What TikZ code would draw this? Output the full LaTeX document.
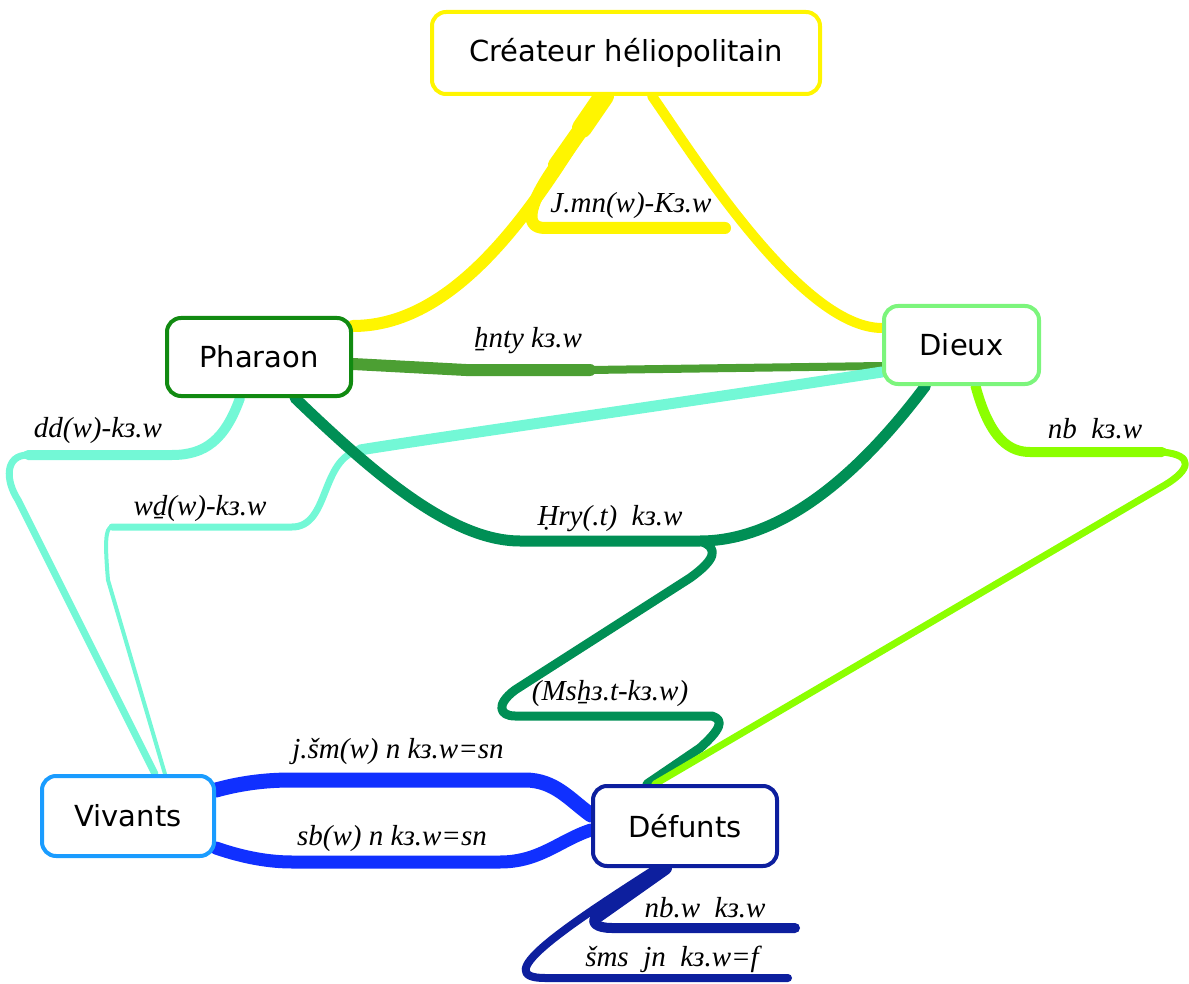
\documentclass[tikz,border=0pt]{standalone}
\usepackage{fontspec}
\setmainfont{Liberation Serif}
\newfontfamily\boxfont{DejaVu Sans}
\usetikzlibrary{backgrounds}
\definecolor{sun}{HTML}{FFF500}
\definecolor{phargreen}{HTML}{118A11}
\definecolor{olive}{HTML}{4C9F33}
\definecolor{godgreen}{HTML}{7CF57C}
\definecolor{jade}{HTML}{008F55}
\definecolor{lime}{HTML}{8CFF00}
\definecolor{aqua}{HTML}{73F8D6}
\definecolor{sky}{HTML}{1A9CFF}
\definecolor{royal}{HTML}{1030FF}
\definecolor{navy}{HTML}{0D1F9E}

\begin{document}
\begin{tikzpicture}[x=1pt,y=-1pt,
  box/.style={draw=#1,line width=4pt,fill=white,rounded corners=14pt,
              font=\boxfont\fontsize{29}{34}\selectfont,inner sep=0pt},
  lbl/.style={font=\itshape\fontsize{29}{33}\selectfont,anchor=base,
              inner sep=0pt},
  link/.style={draw=#1,line cap=round,line join=round},
]
\useasboundingbox (0,0) rectangle (1189,984);

% Concept boxes
\node[box=sun,minimum width=388pt,minimum height=82pt] (crea) at (626,53)
  {Créateur héliopolitain};
\node[box=phargreen,minimum width=184pt,minimum height=78pt] (phar) at (259,357)
  {Pharaon};
\node[box=godgreen,minimum width=155pt,minimum height=78pt] (dieu) at (961.5,345)
  {Dieux};
\node[box=sky,minimum width=172pt,minimum height=80pt] (viv) at (128,816)
  {Vivants};
\node[box=navy,minimum width=184pt,minimum height=80pt] (def) at (685,826)
  {Défunts};

% Label segments and bends
\coordinate (jmnA) at (582,128); \coordinate (jmnK) at (556,165);
\coordinate (jmnL) at (545,228); \coordinate (jmnR) at (725,228);
\coordinate (hntL) at (466,370); \coordinate (hntR) at (590,370);
\coordinate (ddL)  at (28,455);  \coordinate (ddR)  at (172,455);
\coordinate (wdK)  at (360,450);
\coordinate (wdL)  at (112,527); \coordinate (wdR)  at (292,527);
\coordinate (hryL) at (520,541); \coordinate (hryR) at (700,541);
\coordinate (mshL) at (515,716); \coordinate (mshR) at (712,716);
\coordinate (nbL)  at (1030,452);\coordinate (nbR)  at (1162,452);
\coordinate (jsmL) at (292,780); \coordinate (jsmR) at (525,780);
\coordinate (sbL)  at (292,862); \coordinate (sbR)  at (500,862);
\coordinate (nbwK) at (597,916);
\coordinate (nbwL) at (612,928); \coordinate (nbwR) at (795,928);
\coordinate (smsL) at (545,978); \coordinate (smsR) at (788,978);

\begin{scope}[on background layer]
% Creator branches
\draw[link=sun,line width=20pt] ([xshift=-22pt]crea.south) -- (jmnA);
\draw[link=sun,line width=16pt] (jmnA) -- (jmnK);
\draw[link=sun,line width=12pt] (jmnK)
  .. controls (530,202) and (522,228) .. (jmnL) -- (jmnR);
\draw[link=sun,line width=12pt] ([xshift=-24pt]crea.south)
  .. controls (540,200) and (460,326) .. ([yshift=-10pt]phar.north east);
\draw[link=sun,line width=10pt] ([xshift=26pt]crea.south)
  .. controls (690,150) and (800,328) .. ([yshift=17pt]dieu.west);

% Pharaon -- Dieux
\draw[link=olive,line width=12pt] ([yshift=-7pt]phar.east)
  -- (hntL) -- (hntR);
\draw[link=olive,line width=8pt] (hntR) -- ([yshift=-21pt]dieu.west);

% Aqua branches to Vivants
\draw[link=aqua,line width=10pt] ([xshift=-19pt]phar.south)
  .. controls (225,440) and (205,455) .. (ddR) -- (ddL);
\draw[link=aqua,line width=7pt] (ddL)
  .. controls (5,455) and (5,480) .. (18,500) -- ([xshift=27pt]viv.north);
\draw[link=aqua,line width=11pt] ([yshift=-27pt]dieu.west)
  .. controls (700,400) and (420,440) .. (wdK);
\draw[link=aqua,line width=7pt] (wdK)
  .. controls (320,458) and (330,527) .. (wdR) -- (wdL);
\draw[link=aqua,line width=4pt] (wdL)
  .. controls (105,527) and (105,545) .. (108,580) -- ([xshift=37pt]viv.north);

% Hry branch
\draw[link=jade,line width=11pt] ([xshift=36pt]phar.south)
  .. controls (370,470) and (450,541) .. (hryL) -- (hryR)
  .. controls (790,541) and (870,460) .. ([xshift=-36pt]dieu.south);
\draw[link=jade,line width=9pt] (hryR)
  .. controls (720,548) and (715,560) .. (690,578) -- (515,690)
  .. controls (495,705) and (500,716) .. (mshL) -- (mshR)
  .. controls (725,720) and (720,730) .. (700,748) -- ([xshift=-38pt]def.north);

% nb branch
\draw[link=lime,line width=10pt] ([xshift=14pt]dieu.south)
  .. controls (990,440) and (1010,452) .. (nbL) -- (nbR);
\draw[link=lime,line width=7pt] (nbR)
  .. controls (1195,455) and (1190,470) .. (1165,485) -- ([xshift=-30pt]def.north);

% Vivants -- Defunts
\draw[link=royal,line width=15pt] ([yshift=26pt]viv.east)
  .. controls (245,782) and (270,780) .. (jsmL) -- (jsmR)
  .. controls (555,780) and (570,800) .. ([yshift=11pt]def.west);
\draw[link=royal,line width=13pt] ([yshift=-32pt]viv.east)
  .. controls (245,858) and (270,862) .. (sbL) -- (sbR)
  .. controls (540,862) and (560,840) .. ([yshift=-4pt]def.west);

% Defunts branches
\draw[link=navy,line width=14pt] ([xshift=-20pt]def.south) -- (nbwK);
\draw[link=navy,line width=10pt] (nbwK)
  .. controls (590,922) and (596,928) .. (nbwL) -- (nbwR);
\draw[link=navy,line width=8pt] ([xshift=-28pt]def.south)
  .. controls (560,930) and (490,978) .. (smsL) -- (smsR);
\end{scope}

% Labels
\node[lbl] (jmnT) at (631,213) {J.mn(w)-Kз.w};
\node[lbl] (hntT) at (528,348) {ẖnty kз.w};
\node[lbl] (ddT)  at (98,437)  {dd(w)-kз.w};
\node[lbl] (wdT)  at (200,515) {wḏ(w)-kз.w};
\node[lbl] (hryT) at (610,525) {Ḥry(.t)~~kз.w};
\node[lbl] (mshT) at (610,700) {(Msẖз.t-kз.w)};
\node[lbl] (nbT)  at (1095,438){nb~~kз.w};
\node[lbl] (jsmT) at (398,758) {j.šm(w) n kз.w=sn};
\node[lbl] (sbT)  at (392,845) {sb(w) n kз.w=sn};
\node[lbl] (nbwT) at (705,917) {nb.w~~kз.w};
\node[lbl] (smsT) at (672,966) {šms~~jn~~kз.w=f};

\end{tikzpicture}
\end{document}
